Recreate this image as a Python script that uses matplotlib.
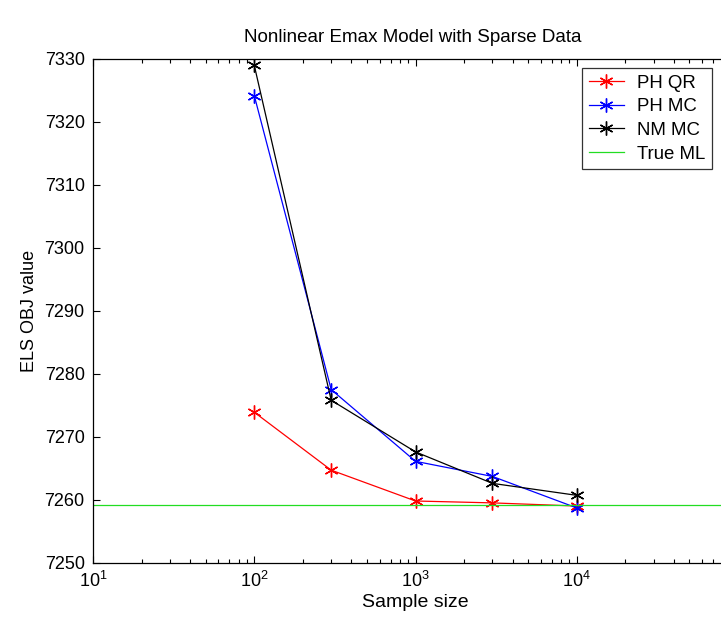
import matplotlib
matplotlib.use("Agg")
import matplotlib.pyplot as plt
from matplotlib.ticker import LogLocator, FixedLocator, NullFormatter

plt.rcParams['font.family'] = ['Liberation Sans', 'DejaVu Sans']
plt.rcParams['mathtext.fontset'] = 'custom'
plt.rcParams['mathtext.rm'] = 'Liberation Sans'
plt.rcParams['mathtext.it'] = 'Liberation Sans'
plt.rcParams['mathtext.default'] = 'regular'

sample_sizes = [100, 300, 1000, 3000, 10000]
ph_qr = [7273.9, 7264.7, 7259.8, 7259.5, 7259.0]
ph_mc = [7324.2, 7277.5, 7266.1, 7263.7, 7258.7]
nm_mc = [7329.0, 7275.8, 7267.6, 7262.6, 7260.7]
true_ml = 7259.1
y_ticks = [7250, 7260, 7270, 7280, 7290, 7300, 7310, 7320, 7330]

fig = plt.figure(figsize=(7.21, 6.24), dpi=100)
ax = fig.add_axes([93/721, 61.3/624, (738-93)/721, (562.7-59)/624])

ast = (6, 2, 0)
ax.plot(sample_sizes, ph_qr, color='red', marker=ast, markersize=10, mew=1.0, lw=0.9, label='PH QR')
ax.plot(sample_sizes, ph_mc, color='blue', marker=ast, markersize=10, mew=1.0, lw=0.9, label='PH MC')
ax.plot(sample_sizes, nm_mc, color='black', marker=ast, markersize=10, mew=1.0, lw=0.9, label='NM MC')
ax.axhline(true_ml, color='#22dd22', lw=0.9, label='True ML')

ax.set_xscale('log')
ax.set_xlim(10, 1e5)
ax.set_ylim(7250, 7330)
ax.yaxis.set_major_locator(FixedLocator(y_ticks))
ax.xaxis.set_minor_locator(LogLocator(base=10, subs=range(2, 10)))
ax.xaxis.set_minor_formatter(NullFormatter())
ax.tick_params(which='both', direction='in', top=True, right=True, labelsize=13)
ax.tick_params(axis='y', pad=6)
ax.tick_params(axis='x', pad=6)
ax.tick_params(which='major', length=5, width=0.8)
ax.tick_params(which='minor', length=3, width=0.8)
for s in ax.spines.values():
    s.set_linewidth(0.9)

ax.set_xlabel('Sample size', fontsize=14, labelpad=2)
ax.set_ylabel('ELS OBJ value', fontsize=13, labelpad=5)
fig.text(413/721, 1-38/624, 'Nonlinear Emax Model with Sparse Data', ha='center', va='center', fontsize=13.5)

leg = ax.legend(loc='upper left', bbox_to_anchor=(582/721, 1-68/624), bbox_transform=fig.transFigure,
                fontsize=13.4, frameon=True, fancybox=False, edgecolor='black', borderpad=0.35,
                labelspacing=0.36, handlelength=1.9, handletextpad=0.7, borderaxespad=0)
leg.get_frame().set_linewidth(0.9)

fig.savefig('out.png', dpi=100)
